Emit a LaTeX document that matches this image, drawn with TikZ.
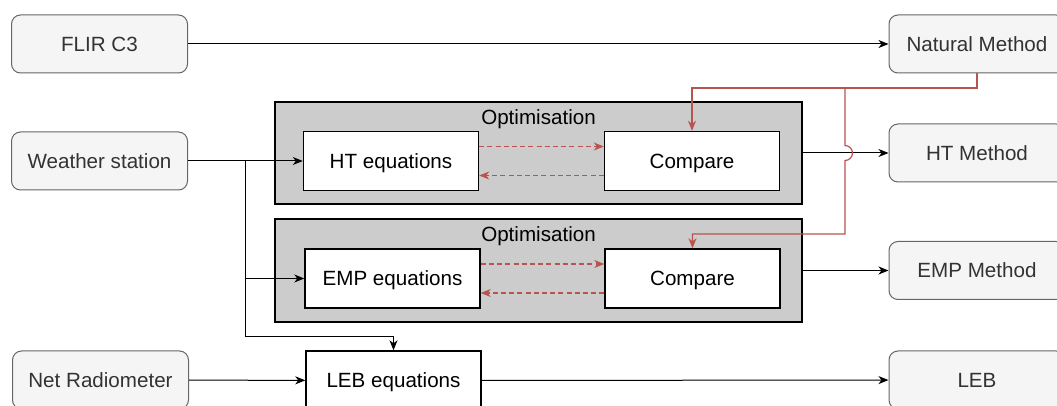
\documentclass[tikz,border=0pt]{standalone}
\usepackage{fontspec}
\setmainfont{Liberation Sans}
\usetikzlibrary{arrows.meta}
\definecolor{boxfill}{HTML}{F5F5F5}
\definecolor{boxline}{HTML}{666666}
\definecolor{boxtext}{HTML}{333333}
\definecolor{optfill}{HTML}{CCCCCC}
\definecolor{redline}{HTML}{B85450}

\tikzset{
  device/.style={draw=boxline, fill=boxfill, text=boxtext, rounded corners=4.5pt,
    minimum width=88pt, minimum height=29pt, line width=0.5pt},
  eqbox/.style={draw=black, fill=white, minimum width=87.5pt, minimum height=29.5pt, line width=0.7pt},
  optbox/.style={draw=black, fill=optfill, minimum width=263.5pt, minimum height=51pt, line width=0.7pt},
  arr/.style={-{Stealth[length=5pt,width=4pt,inset=1.5pt]}, line width=0.5pt},
  feedback/.style={arr, draw=redline, line width=0.6pt},
  loopline/.style={feedback, dash pattern=on 2.5pt off 1.6pt},
}

\begin{document}
\begin{tikzpicture}[x=0.5pt, y=-0.5pt, font=\fontsize{10.3}{12.4}\selectfont,
    every node/.append style={text height=7.2pt, text depth=0pt}]
    \useasboundingbox (0,0) rectangle (1057,406);

    % inputs
    \node[device] (flir) at (99.5,44) {FLIR C3};
    \node[device] (weather) at (99.5,161) {Weather station};
    \node[device] (netrad) at (100.5,380) {Net Radiometer};

    % outputs
    \node[device] (natural) at (977,44) {Natural Method};
    \node[device] (htm) at (977,153) {HT Method};
    \node[device] (empm) at (977,270.5) {EMP Method};
    \node[device] (leb) at (977,380) {LEB};

    % optimisation loops
    \node[optbox] (opt1) at (538.5,153) {};
    \node (optlabel1) at ([yshift=-8pt]opt1.north) {Optimisation};
    \node[eqbox] (hteq) at (391,161) {HT equations};
    \node[eqbox] (cmp1) at (692,161) {Compare};

    \node[optbox, minimum height=51.5pt] (opt2) at (538.5,270.5) {};
    \node (optlabel2) at ([yshift=-8pt]opt2.north) {Optimisation};
    \node[eqbox] (empeq) at (392.5,278.5) {EMP equations};
    \node[eqbox] (cmp2) at (692.5,278.5) {Compare};

    \node[eqbox] (lebeq) at (393.5,380.5) {LEB equations};

    \draw[loopline] ([yshift=7.25pt]hteq.east) -- ([yshift=7.25pt]cmp1.west);
    \draw[loopline] ([yshift=-7.25pt]cmp1.west) -- ([yshift=-7.25pt]hteq.east);
    \draw[loopline] ([yshift=7.25pt]empeq.east) -- ([yshift=7.25pt]cmp2.west);
    \draw[loopline] ([yshift=-7.25pt]cmp2.west) -- ([yshift=-7.25pt]empeq.east);

    % black connectors
    \coordinate (fork) at (245,161);
    \coordinate (forklow) at (245,337);
    \draw[arr] (flir) -- (natural);
    \draw[arr] (weather) -- (hteq);
    \draw[arr] (weather.east) -- (fork) |- (empeq.west);
    \draw[arr] (fork) -- (forklow) -| (lebeq.north);
    \draw[arr] (netrad) -- (lebeq);
    \draw[arr] (lebeq) -- (leb);
    \draw[arr] (opt1) -- (htm);
    \draw[arr] (opt2) -- (empm);

    % feedback from the natural method
    \coordinate (bend) at (845,88);
    \coordinate (jump) at (bend |- opt1.east);
    \coordinate (turn) at (845,234);
    \draw[feedback] (natural.south) |- (bend) -| (cmp1.north);
    \draw[feedback] (bend) -- ([yshift=3.75pt]jump)
      arc[start angle=90, end angle=-90, radius=3.75pt] -- (turn) -| (cmp2.north);
\end{tikzpicture}
\end{document}
